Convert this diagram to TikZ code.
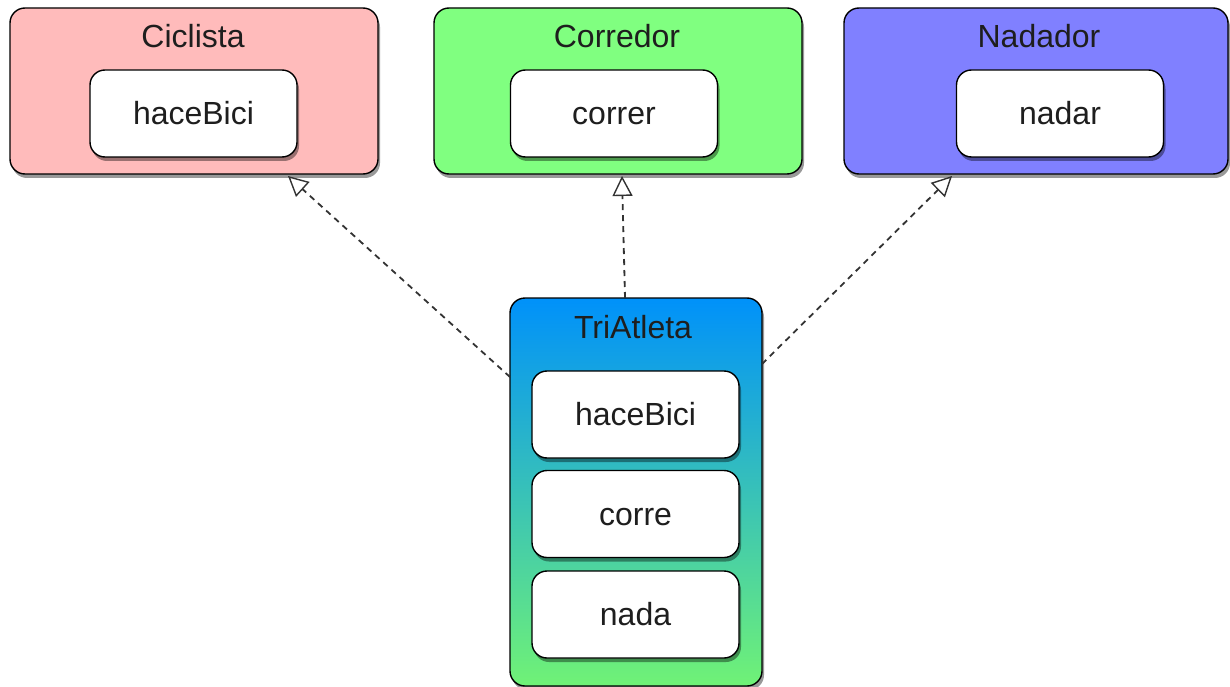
\documentclass[tikz,border=0pt]{standalone}
\usepackage{fontspec}
\setmainfont{Liberation Sans}
\usetikzlibrary{arrows.meta,shadows}
\definecolor{pinkc}{RGB}{255,187,187}
\definecolor{greenc}{RGB}{128,255,128}
\definecolor{bluec}{RGB}{128,128,255}
\definecolor{tritop}{RGB}{0,145,250}
\definecolor{tribot}{RGB}{112,242,118}
\definecolor{txt}{RGB}{30,30,30}
\tikzset{
  sh/.style={drop shadow={shadow xshift=2pt,shadow yshift=-4pt,fill=black,opacity=.4}},
  outerbox/.style={draw=black,line width=1.4pt,rounded corners=15pt,sh,outer sep=0pt,inner sep=0pt},
  innerbox/.style={draw=black,line width=1.4pt,rounded corners=15pt,fill=white,sh,
     minimum width=207pt,minimum height=87pt,outer sep=0pt,inner sep=0pt,
     font=\fontsize{32}{36}\selectfont,text=txt,text height=26pt,text depth=4pt},
  titletxt/.style={font=\fontsize{32}{36}\selectfont,text=txt,inner sep=0pt,text height=26pt,text depth=4pt},
  realize/.style={draw=black!80,line width=1.8pt,dash pattern=on 6pt off 5pt,
     -{Triangle[open,length=20pt,width=20pt,line width=1.4pt]}}
}
\begin{document}
\begin{tikzpicture}[x=1pt,y=-1pt]
\useasboundingbox (0,0) rectangle (1230,687);
% Ciclista
\node[outerbox,fill=pinkc,minimum width=368pt,minimum height=166pt] (cic) at (194,91) {};
\node[titletxt] (cict) at (193,37) {Ciclista};
\node[innerbox] (cicm) at (193.5,113.5) {haceBici};
% Corredor
\node[outerbox,fill=greenc,minimum width=368pt,minimum height=166pt] (cor) at (618,91) {};
\node[titletxt] (cort) at (617,37) {Corredor};
\node[innerbox] (corm) at (614,113.5) {correr};
% Nadador
\node[outerbox,fill=bluec,minimum width=384pt,minimum height=166pt] (nad) at (1036,91) {};
\node[titletxt] (nadt) at (1039,37) {Nadador};
\node[innerbox] (nadm) at (1060,113.5) {nadar};
% TriAtleta
\node[outerbox,top color=tritop,bottom color=tribot,minimum width=252pt,minimum height=388pt] (tri) at (636,492) {};
\node[titletxt] (trit) at (633,327) {TriAtleta};
\node[innerbox] (trim1) at (635.5,414.5) {haceBici};
\node[innerbox] (trim2) at (635.5,514) {corre};
\node[innerbox] (trim3) at (635.5,614.5) {nada};
% realizations
\draw[realize] ([yshift=115pt]tri.west) -- ([xshift=94pt,yshift=-2pt]cic.south);
\draw[realize] ([xshift=-11pt]tri.north) -- ([xshift=4pt,yshift=-2pt]cor.south);
\draw[realize] ([yshift=128pt]tri.east) -- ([xshift=-84pt,yshift=-2pt]nad.south);
\end{tikzpicture}
\end{document}
